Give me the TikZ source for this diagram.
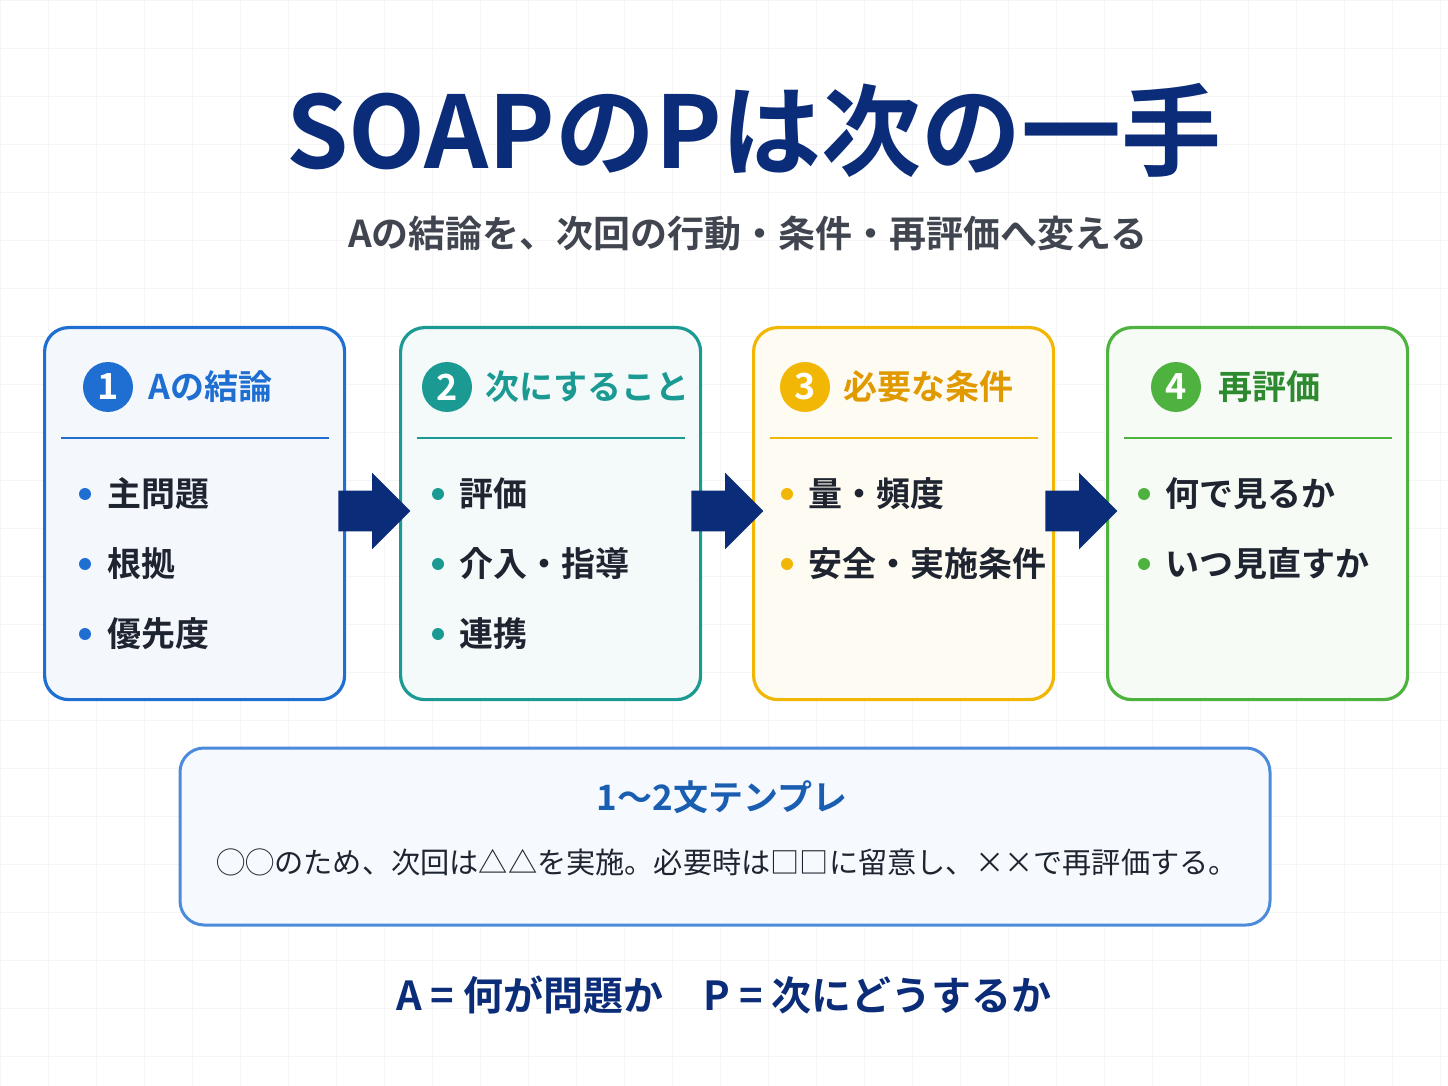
\documentclass[tikz,border=0pt]{standalone}
\usepackage{fontspec}
\setmainfont{Noto Sans CJK JP}[BoldFont={* Bold}]
\usetikzlibrary{shapes.arrows}
\definecolor{navy}{HTML}{0B2C78}
\definecolor{ink}{HTML}{1E2430}
\definecolor{cblue}{HTML}{1F6ED2}
\definecolor{cteal}{HTML}{1A9A92}
\definecolor{camber}{HTML}{F2B705}
\definecolor{camberT}{HTML}{E09A00}
\definecolor{cgreen}{HTML}{4DB23E}
\definecolor{cgreenT}{HTML}{2E8A2E}
\tikzset{
  card/.style={draw=#1,line width=1.6pt,rounded corners=12pt,fill=#1!5,minimum width=150pt,minimum height=186pt,anchor=north west},
  num/.style={circle,fill=#1,text=white,font=\bfseries\fontsize{18}{18}\selectfont,minimum size=25pt,inner sep=0pt},
  head/.style={font=\bfseries\fontsize{17}{17}\selectfont,anchor=west,inner sep=0pt},
  item/.style={font=\bfseries\fontsize{17}{17}\selectfont,text=ink,anchor=west,inner sep=0pt},
  dot/.style={circle,fill=#1,inner sep=0pt,minimum size=6pt},
  flow/.style={single arrow,fill=navy,text height=0pt,text depth=0pt,text width=0pt,inner xsep=0pt,inner ysep=10pt,minimum height=36pt,single arrow head extend=9pt,single arrow tip angle=90,anchor=west}
}
\begin{document}
\begin{tikzpicture}[x=0.5pt,y=-0.5pt]
\useasboundingbox[fill=white] (0,0) rectangle (1448,1086);
% faint grid
\foreach \g in {0,48,...,1448} \draw[black!4,line width=0.4pt] (\g,0) -- (\g,1086);
\foreach \g in {0,48,...,1086} \draw[black!4,line width=0.4pt] (0,\g) -- (1448,\g);
% title
\node[font=\bfseries\fontsize{50}{50}\selectfont,text=navy] (title) at (754,130) {SOAPのPは次の一手};
\node[font=\bfseries\fontsize{18.5}{18.5}\selectfont,text=ink!85] (sub) at (748,234) {Aの結論を、次回の行動・条件・再評価へ変える};
% cards
\foreach \n/\x/\c in {1/43/cblue,2/399/cteal,3/752/camber,4/1106/cgreen}{
  \node[card=\c] (card\n) at (\x,326) {};
  \draw[\c,line width=1.3pt] (\x+18,438) -- (\x+286,438);
}
\node[num=cblue] (n1) at (108,387) {1};
\node[head,text=cblue] (h1) at (148,387) {Aの結論};
\node[num=cteal] (n2) at (447,387) {2};
\node[head,text=cteal] (h2) at (485,387) {次にすること};
\node[num=camber] (n3) at (805,387) {3};
\node[head,text=camberT] (h3) at (843,387) {必要な条件};
\node[num=cgreen] (n4) at (1176,387) {4};
\node[head,text=cgreenT] (h4) at (1218,387) {再評価};
% items
\foreach \i/\y/\t in {1/494/主問題,2/564/根拠,3/634/優先度}{
  \node[dot=cblue] (d1\i) at (85,\y) {};
  \node[item] (t1\i) at (107,\y) {\t};
}
\foreach \i/\y/\t in {1/494/評価,2/564/介入・指導,3/634/連携}{
  \node[dot=cteal] (d2\i) at (438,\y) {};
  \node[item] (t2\i) at (459,\y) {\t};
}
\foreach \i/\y/\t in {1/494/量・頻度,2/564/安全・実施条件}{
  \node[dot=camber] (d3\i) at (787,\y) {};
  \node[item] (t3\i) at (808,\y) {\t};
}
\foreach \i/\y/\t in {1/494/何で見るか,2/564/いつ見直すか}{
  \node[dot=cgreen] (d4\i) at (1144,\y) {};
  \node[item] (t4\i) at (1165,\y) {\t};
}
% arrows
\node[flow] (a12) at (338,511) {};
\node[flow] (a23) at (691,511) {};
\node[flow] (a34) at (1045,511) {};
% template
\node[draw=cblue!80,line width=1.5pt,rounded corners=12pt,fill=cblue!4,minimum width=545pt,minimum height=88.5pt] (tpl) at (725,836.5) {};
\node[font=\bfseries\fontsize{17.5}{17.5}\selectfont,text=cblue!85!black] (tplh) at (722,797) {1〜2文テンプレ};
\node[font=\fontsize{14.6}{14.6}\selectfont,text=ink] (tplt) at (727,862) {◯◯のため、次回は△△を実施。必要時は□□に留意し、××で再評価する。};
% bottom
\node[font=\bfseries\fontsize{20}{20}\selectfont,text=navy] (note) at (724,995) {A = 何が問題か\quad P = 次にどうするか};
\end{tikzpicture}
\end{document}
